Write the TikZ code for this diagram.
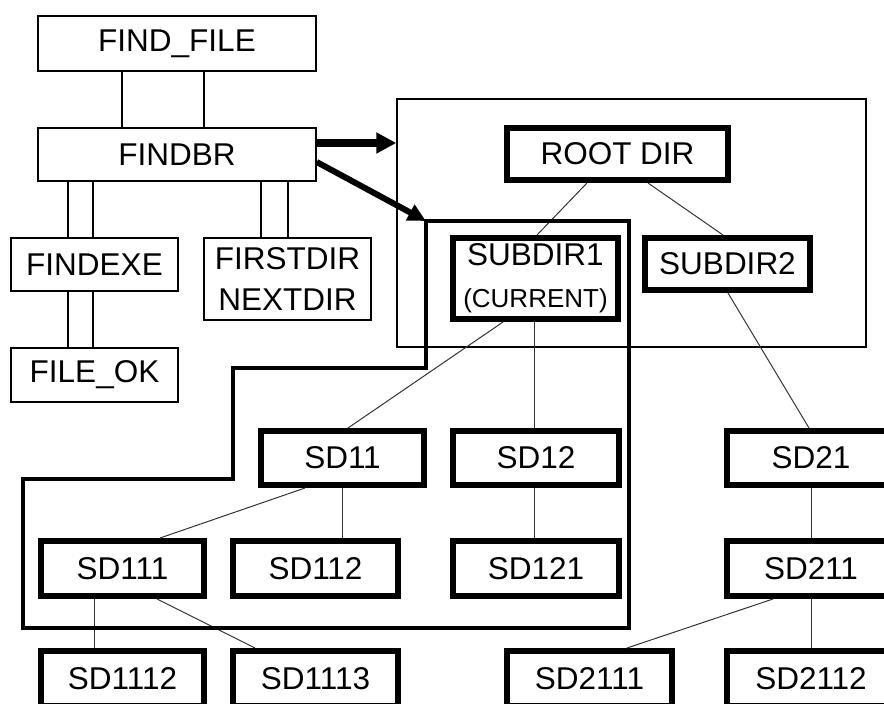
\documentclass[tikz,border=0pt]{standalone}
\usepackage{fontspec}
\setmainfont{Liberation Sans}
\usetikzlibrary{arrows.meta}

\tikzset{
  thinbox/.style={draw, line width=1.5pt, inner sep=0pt, align=center,
    font=\fontsize{31.5}{40}\selectfont},
  thickbox/.style={draw, line width=6pt, inner sep=0pt, align=center,
    minimum height=54pt, font=\fontsize{31.5}{42}\selectfont},
  frame/.style={draw, line width=1.5pt, inner sep=0pt},
  link/.style={line width=1.5pt},
  treelink/.style={line width=1pt, black!80},
  current/.style={line width=4.5pt, line join=miter},
  bigarrow/.style={line width=8pt, -{Triangle[length=20pt,width=20pt]}},
  slantarrow/.style={line width=6pt, -{Triangle[length=18pt,width=17pt]}}
}

\begin{document}
\begin{tikzpicture}[x=1pt, y=-1pt]
\clip (0,0) rectangle (884,704);

% program modules
\node[thinbox, minimum width=278pt, minimum height=55pt] (ff) at (177,43.5) {FIND\_FILE};
\node[thinbox, minimum width=278pt, minimum height=53pt] (fb) at (177,154.5) {FINDBR};
\node[thinbox, minimum width=167pt, minimum height=53pt] (fe) at (94.5,264.5) {FINDEXE};
\node[thinbox, minimum width=167pt, minimum height=54pt] (fo) at (94.5,375) {FILE\_OK};
\node[thinbox, minimum width=167pt, minimum height=82pt] (fd) at (287.5,279) {FIRSTDIR\\NEXTDIR};

% calls between modules
\draw[link] (122,0 |- ff.south) -- (122,0 |- fb.north);
\draw[link] (204,0 |- ff.south) -- (204,0 |- fb.north);
\draw[link] (68,0 |- fb.south) -- (68,0 |- fe.north);
\draw[link] (93,0 |- fb.south) -- (93,0 |- fe.north);
\draw[link] (68,0 |- fe.south) -- (68,0 |- fo.north);
\draw[link] (93,0 |- fe.south) -- (93,0 |- fo.north);
\draw[link] (261,0 |- fb.south) -- (261,0 |- fd.north);
\draw[link] (288,0 |- fb.south) -- (288,0 |- fd.north);

% area holding the root level
\node[frame, minimum width=469pt, minimum height=248pt] (rootarea) at (631.5,223) {};

% directory tree
\node[thickbox, minimum width=221pt, minimum height=52pt] (root) at (617.5,154) {ROOT DIR};
\node[thickbox, minimum width=165pt, minimum height=81pt] (sub1) at (535.5,278.5)
  {SUBDIR1\\{\fontsize{26}{30}\selectfont (CURRENT)}};
\node[thickbox, minimum width=165pt, minimum height=52pt] (sub2) at (727.5,264) {SUBDIR2};

\node[thickbox, minimum width=163pt] (sd11) at (342.5,458) {SD11};
\node[thickbox, minimum width=166pt] (sd12) at (536,458) {SD12};
\node[thickbox, minimum width=168pt] (sd21) at (811,458) {SD21};

\node[thickbox, minimum width=163pt, minimum height=55pt] (sd111) at (122.5,568.5) {SD111};
\node[thickbox, minimum width=165pt, minimum height=55pt] (sd112) at (315.5,568.5) {SD112};
\node[thickbox, minimum width=166pt, minimum height=55pt] (sd121) at (536,568.5) {SD121};
\node[thickbox, minimum width=168pt, minimum height=55pt] (sd211) at (811,568.5) {SD211};

\node[thickbox, minimum width=163pt, minimum height=55pt] (sd1112) at (122.5,678.5) {SD1112};
\node[thickbox, minimum width=165pt, minimum height=55pt] (sd1113) at (315.5,678.5) {SD1113};
\node[thickbox, minimum width=165pt, minimum height=55pt] (sd2111) at (589.5,678.5) {SD2111};
\node[thickbox, minimum width=168pt, minimum height=55pt] (sd2112) at (811,678.5) {SD2112};

% tree edges
\draw[treelink] (587,0 |- root.south) -- (537,0 |- sub1.north);
\draw[treelink] (648,0 |- root.south) -- (723,0 |- sub2.north);
\draw[treelink] (503,0 |- sub1.south) -- (348,0 |- sd11.north);
\draw[treelink] (534,0 |- sub1.south) -- (534,0 |- sd12.north);
\draw[treelink] (728,0 |- sub2.south) -- (809,0 |- sd21.north);
\draw[treelink] (305,0 |- sd11.south) -- (160,0 |- sd111.north);
\draw[treelink] (342,0 |- sd11.south) -- (342,0 |- sd112.north);
\draw[treelink] (534,0 |- sd12.south) -- (534,0 |- sd121.north);
\draw[treelink] (94,0 |- sd111.south) -- (94,0 |- sd1112.north);
\draw[treelink] (157,0 |- sd111.south) -- (255,0 |- sd1113.north);
\draw[treelink] (811,0 |- sd21.south) -- (811,0 |- sd211.north);
\draw[treelink] (773,0 |- sd211.south) -- (627,0 |- sd2111.north);
\draw[treelink] (811,0 |- sd211.south) -- (811,0 |- sd2112.north);

% outline of the current directory's subtree
\coordinate (cur) at (426,221);
\draw[current] (cur) -- (629,221) -- (629,628) -- (23,628) -- (23,479)
  -- (233,479) -- (233,368) -- (426,368) -- cycle;

% pointers kept by FINDBR
\draw[bigarrow] (fb.east |- 0,143) -- (rootarea.west |- 0,143);
\draw[slantarrow] (fb.east |- 0,162) -- (cur);
\end{tikzpicture}
\end{document}
